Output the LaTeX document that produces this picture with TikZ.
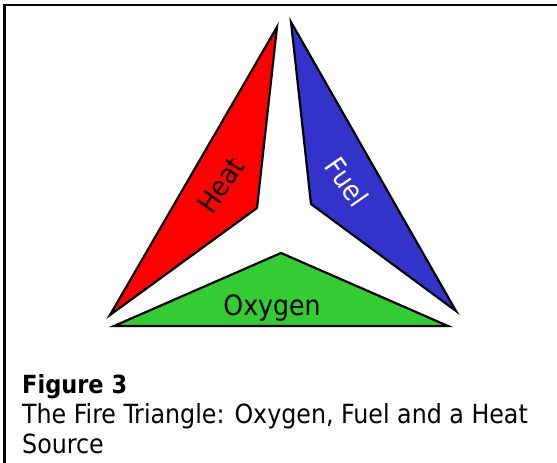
\documentclass[tikz,border=0pt]{standalone}
\usepackage{fontspec}
\setmainfont{DejaVu Sans Condensed}
\usetikzlibrary{positioning}
\definecolor{fRed}{HTML}{FF0000}
\definecolor{fBlue}{HTML}{3333CC}
\definecolor{fGreen}{HTML}{33CC33}
\tikzset{
  side/.style={draw=black, line width=2.2pt, line join=miter},
  sidelabel/.style={font=\fontsize{28}{30}\selectfont, inner sep=0pt},
  capline/.style={font=\fontsize{26.4}{30}\selectfont, anchor=base west, inner sep=0pt}
}
\begin{document}
\begin{tikzpicture}[x=1pt,y=-1pt]
\useasboundingbox (0,0) rectangle (557,463);
% frame
\draw[line width=2.8pt] (557,5) -- (4.5,5) -- (4.5,463);
% the three sides
\filldraw[side, fill=fRed] (277,27) -- (257,208) -- (110,315) -- cycle;
\filldraw[side, fill=fBlue] (291,22) -- (311,204) -- (456,311) -- cycle;
\filldraw[side, fill=fGreen] (281,253) -- (448,326) -- (114,326) -- cycle;
\node[sidelabel, rotate=55] (heat) at (221,185) {Heat};
\node[sidelabel, rotate=-55, text=white] (fuel) at (347,182) {Fuel};
\node[sidelabel, anchor=base] (oxygen) at (272,315) {Oxygen};
% caption
\node[capline, font=\fontsize{25}{30}\selectfont\bfseries] (figno) at (22,393) {Figure 3};
\node[capline] (figtext) at (22,423) {The Fire Triangle: Oxygen, Fuel and a Heat};
\node[capline] (figsrc) at (22,453) {Source};
\end{tikzpicture}
\end{document}
